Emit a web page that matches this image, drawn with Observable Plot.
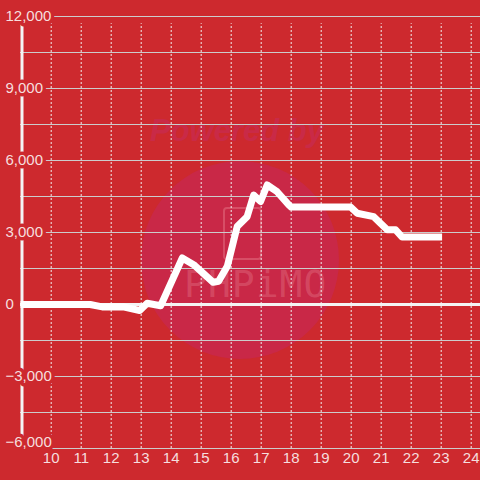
<!DOCTYPE html>
<html>
<head>
<meta charset="utf-8">
<script src="https://cdn.jsdelivr.net/npm/d3@7"></script>
<script src="https://cdn.jsdelivr.net/npm/@observablehq/plot@0.6"></script>
<style>
  html, body { margin: 0; padding: 0; background: #cd292e; }
  #wrap { position: relative; width: 480px; height: 480px; background: #cd292e; overflow: hidden; font-family: "Liberation Sans", Arial, sans-serif; }
  #wm-circle { position: absolute; left: 141px; top: 161px; width: 198px; height: 198px; border-radius: 50%; background: #c92847; }
  #wm-text { position: absolute; left: 150px; top: 113px; font: italic bold 31px "Liberation Sans", Arial, sans-serif; color: #c92a47; white-space: nowrap; }
  #wm-phone { position: absolute; left: 223px; top: 207px; width: 35px; height: 49px; border: 2px solid rgba(240,150,160,0.35); border-radius: 4px; }
  #wm-logo { position: absolute; left: 184px; top: 262px; font: 38px "DejaVu Sans Mono", monospace; color: rgba(240,150,160,0.3); letter-spacing: 1px; white-space: nowrap; }
  #chart { position: absolute; left: 0; top: 0; }
</style>
</head>
<body>
<div id="wrap">
  <div id="wm-circle"></div>
  <div id="wm-text">Powered by</div>
  <div id="wm-phone"></div>
  <div id="wm-logo">PHPiMO</div>
  <div id="chart"></div>
</div>
<script>
const hours = [8.977, 11.3, 11.7, 12.4, 12.95, 13.2, 13.65, 14.37, 14.75, 15.4, 15.58, 15.87, 16.2, 16.53, 16.75, 16.98, 17.2, 17.53, 17.92, 18.0, 19.98, 20.2, 20.75, 21.2, 21.48, 21.7, 23.03];
const values = [0, 0, -100, -100, -250, 50, -50, 1940, 1660, 925, 970, 1590, 3250, 3660, 4560, 4290, 4980, 4700, 4150, 4060, 4060, 3800, 3660, 3110, 3110, 2810, 2810];
const xTicks = [10, 11, 12, 13, 14, 15, 16, 17, 18, 19, 20, 21, 22, 23, 24];
const yLabelTicks = [-3000, 0, 3000, 6000, 9000, 12000];
const yBottomLabel = [-6000];
const yGridTicks = [-6000, -4500, -3000, -1500, 1500, 3000, 4500, 6000, 7500, 9000, 10500, 12000];

const data = hours.map((h, i) => ({hour: h, value: values[i]}));
const bg = "#cd292e";
const labelColor = "#f6dede";
const fmt = d3.format(",");

const labelOpts = {frameAnchor: "left", dx: -15, textAnchor: "start", text: d => fmt(d), fill: labelColor, stroke: bg, strokeWidth: 7, fontSize: 15};

const chart = Plot.plot({
  width: 480,
  height: 480,
  marginTop: 16,
  marginBottom: 32,
  marginLeft: 20,
  marginRight: 0,
  style: {background: "transparent", fontFamily: "'Liberation Sans', Arial, sans-serif"},
  x: {domain: [8.977, 24.31], axis: null},
  y: {domain: [-6000, 12000], axis: null},
  marks: [
    Plot.ruleX(xTicks, {x: d => d, y1: -6000, y2: 11700, stroke: "#f0f0f0", strokeDasharray: "2,2", strokeWidth: 1}),
    Plot.ruleY(yGridTicks, {y: d => d, stroke: "#cccccc", strokeWidth: 1.2}),
    Plot.ruleY([0], {stroke: "#f4f4f4", strokeWidth: 3}),
    Plot.ruleX([8.977], {x: d => d, dx: 1.5, y1: -6000, y2: 12000, stroke: "#f4f4f4", strokeWidth: 3}),
    Plot.line(data, {x: "hour", y: "value", stroke: "#ffffff", strokeWidth: 7, strokeLinejoin: "round", strokeLinecap: "butt"}),
    Plot.text(yLabelTicks, {y: d => d, ...labelOpts}),
    Plot.text(yBottomLabel, {y: d => d, ...labelOpts, dy: -6}),
    Plot.text(xTicks, {x: d => d, frameAnchor: "bottom", dy: 14, text: d => String(d), fill: labelColor, fontSize: 15})
  ]
});
document.getElementById("chart").appendChild(chart);
</script>
</body>
</html>
